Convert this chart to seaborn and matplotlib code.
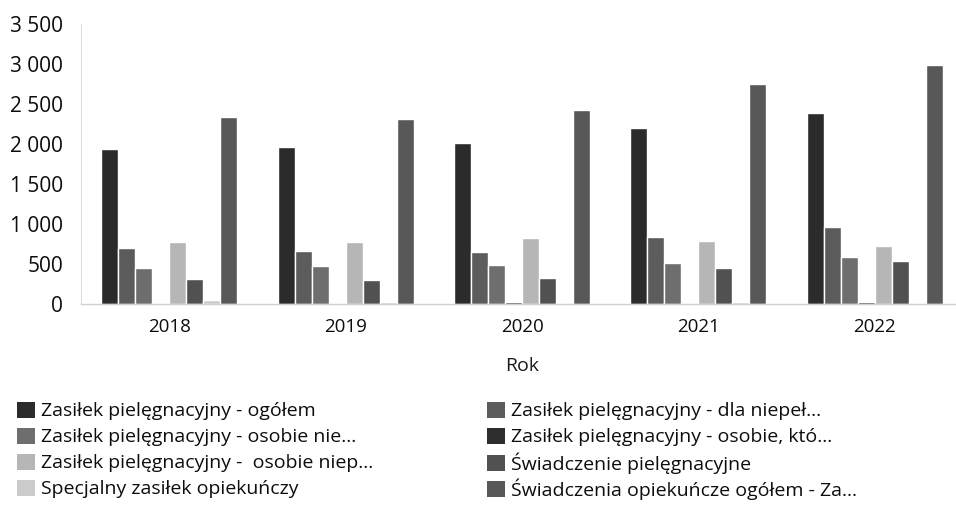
import matplotlib
matplotlib.use("Agg")
import matplotlib.pyplot as plt
from matplotlib.patches import Patch
from matplotlib.ticker import FuncFormatter, MultipleLocator
import seaborn as sns
import pandas as pd

# Years on the category axis
years = ["2018", "2019", "2020", "2021", "2022"]

# Series names in drawing order
series = [
    "Zasiłek pielęgnacyjny - ogółem",
    "Zasiłek pielęgnacyjny - dla niepeł...",
    "Zasiłek pielęgnacyjny - osobie nie...",
    "Zasiłek pielęgnacyjny - osobie, któ...",
    "Zasiłek pielęgnacyjny -  osobie niep...",
    "Świadczenie pielęgnacyjne",
    "Specjalny zasiłek opiekuńczy",
    "Świadczenia opiekuńcze ogółem - Za...",
]

# Values per series, one per year
zp_ogolem = [1940, 1965, 2015, 2200, 2385]
zp_dziecko = [700, 665, 655, 840, 965]
zp_znaczny = [450, 480, 490, 510, 590]
zp_75lat = [2, 2, 25, 15, 20]
zp_umiark = [775, 775, 825, 790, 725]
sw_pielegnacyjne = [310, 300, 325, 450, 540]
specjalny = [55, 25, 10, 20, 10]
sw_ogolem = [2340, 2310, 2425, 2750, 2990]

values = [zp_ogolem, zp_dziecko, zp_znaczny, zp_75lat,
          zp_umiark, sw_pielegnacyjne, specjalny, sw_ogolem]

colors = ["#2b2b2b", "#5c5c5c", "#6e6e6e", "#2e2e2e",
          "#b6b6b6", "#515151", "#cbcbcb", "#585858"]

rows = []
for name, vals in zip(series, values):
    for y, v in zip(years, vals):
        rows.append({"Rok": y, "Seria": name, "Wartość": v})
df = pd.DataFrame(rows)

sns.set_theme(style="white")
plt.rcParams["font.family"] = ["Open Sans", "DejaVu Sans"]

fig = plt.figure(figsize=(9.56, 5.21), dpi=100)
ax = fig.add_axes([81 / 956, 1 - 304 / 521, (963 - 81) / 956, (304 - 24) / 521])

sns.barplot(data=df, x="Rok", y="Wartość", hue="Seria", order=years,
            hue_order=series, palette=colors, width=0.77, gap=0.0,
            saturation=1.0, legend=False, ax=ax)

ax.set_ylim(0, 3500)
ax.yaxis.set_major_locator(MultipleLocator(500))
ax.yaxis.set_major_formatter(
    FuncFormatter(lambda v, p: f"{v:,.0f}".replace(",", " ")))
ax.tick_params(axis="y", labelsize=15, length=0, pad=13, colors="#0d0d0d")
ax.tick_params(axis="x", labelsize=13.5, length=0, pad=10, colors="#0d0d0d")
ax.set_xlabel("Rok", fontsize=14, labelpad=15, color="#1a1a1a")
ax.set_ylabel("")

for side in ["top", "right"]:
    ax.spines[side].set_visible(False)
ax.spines["left"].set_color("#dddddd")
ax.spines["bottom"].set_color("#d0d0d0")
ax.spines["left"].set_linewidth(0.8)
ax.spines["bottom"].set_linewidth(1.0)

# Two-column key, rows aligned at fixed heights
handles = [Patch(facecolor=c, edgecolor="none") for c in colors]
row_y = [411, 437, 463, 489]
for k, name in enumerate(series):
    col, row = k % 2, k // 2
    x0 = 17 if col == 0 else 487
    leg = fig.legend([handles[k]], [name], loc="center left",
                     bbox_to_anchor=(x0 / 956, 1 - row_y[row] / 521),
                     frameon=False, fontsize=14, handlelength=0.9,
                     handleheight=0.9, handletextpad=0.35,
                     borderpad=0, borderaxespad=0)
    for t in leg.get_texts():
        t.set_color("#0d0d0d")

fig.savefig("out.png", dpi=100)
